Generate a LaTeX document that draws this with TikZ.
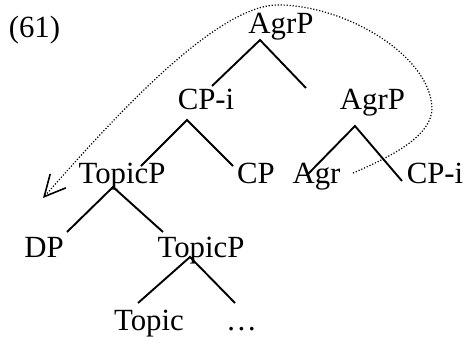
\documentclass[tikz,border=0pt]{standalone}
\usepackage{fontspec}
\setmainfont{Liberation Serif}
\usetikzlibrary{arrows.meta}
\tikzset{
  lbl/.style={anchor=base,inner sep=0pt,font=\fontsize{15.4}{18}\selectfont},
  branch/.style={line width=0.95pt},
  move/.style={line width=0.6pt,dash pattern=on 0.6pt off 0.9pt,
    -{Straight Barb[length=10.5pt,width=10.5pt,line width=0.8pt]}}
}

\begin{document}
\begin{tikzpicture}[x=0.5pt,y=-0.5pt]
\useasboundingbox (0,0) rectangle (466,343);
% labels
\node[lbl] (ex)   at (34.5,37)  {(61)};
\node[lbl] (agrp) at (281,33)   {AgrP};
\node[lbl] (cpi)  at (206,109)  {CP-i};
\node[lbl] (agrq) at (372.5,109){AgrP};
\node[lbl] (tpa)  at (122,183)  {TopicP};
\node[lbl] (cp)   at (256,183)  {CP};
\node[lbl] (agr)  at (316.5,183){Agr};
\node[lbl] (cpj)  at (435,183)  {CP-i};
\node[lbl] (dp)   at (44,257)   {DP};
\node[lbl] (tpb)  at (201,257)  {TopicP};
\node[lbl] (top)  at (149,330)  {Topic};
\node[lbl] (rest) at (241.5,330){…};
\coordinate (stub) at (306,88);
% branches
\draw[branch] ([shift={(6,-23)}]cpi.base) -- ([shift={(-21,7)}]agrp.base) -- (stub);
\draw[branch] ([shift={(19,-17)}]tpa.base) -- ([shift={(-19,11)}]cpi.base) -- ([shift={(-23,-17)}]cp.base);
\draw[branch] ([shift={(-9.5,-8)}]agr.base) -- ([shift={(-17.5,17)}]agrq.base) -- ([shift={(-33,-2)}]cpj.base);
\draw[branch] ([shift={(23,-25)}]dp.base) -- ([shift={(-9,4)}]tpa.base) -- ([shift={(-38,-25)}]tpb.base);
\draw[branch] ([shift={(-11,-27)}]top.base) -- ([shift={(-11,0)}]tpb.base) -- ([shift={(-6.5,-27)}]rest.base);
% movement
\coordinate (mvstart) at ([shift={(36.5,-10)}]agr.base);
\coordinate (mvend) at ([shift={(-79,15)}]tpa.base);
\draw[move] (mvstart) .. controls (395,155) and (432,135) .. (432,108)
  .. controls (430,55) and (345,5) .. (278,5)
  .. controls (215,5) and (110,122) .. (mvend);
\end{tikzpicture}
\end{document}
